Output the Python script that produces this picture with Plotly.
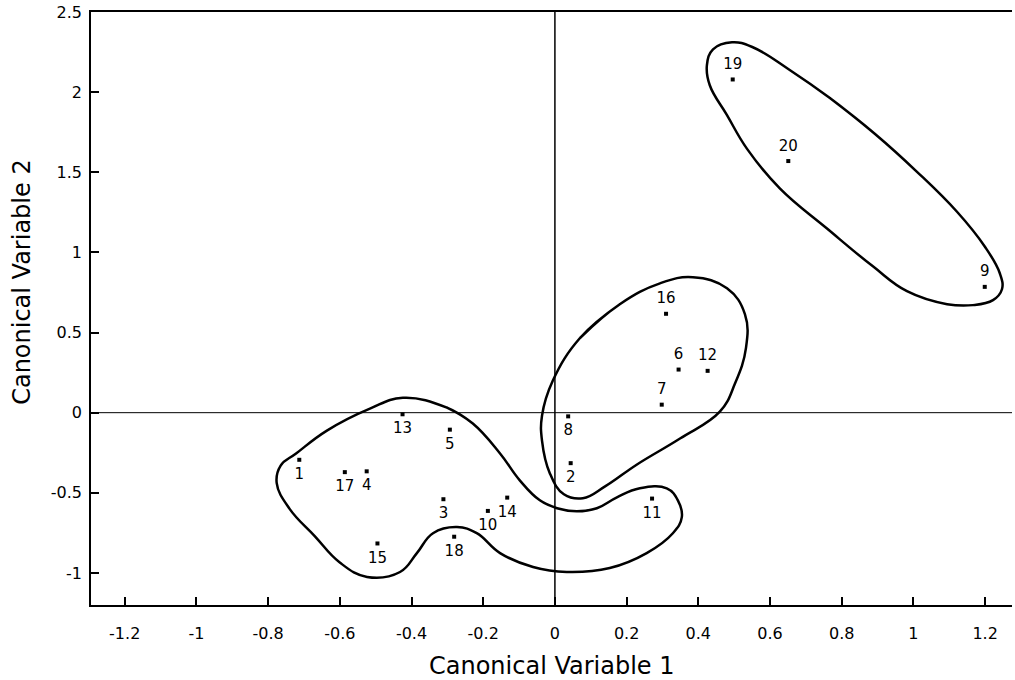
import plotly.graph_objects as go

# ---- data ----
point_labels = ["1", "2", "3", "4", "5", "6", "7", "8", "9", "10",
                "11", "12", "13", "14", "15", "16", "17", "18", "19", "20"]
cv1 = [-0.713, 0.044, -0.311, -0.525, -0.293, 0.345, 0.298, 0.037, 1.199, -0.187,
       0.271, 0.426, -0.425, -0.133, -0.495, 0.310, -0.586, -0.281, 0.496, 0.651]
cv2 = [-0.294, -0.315, -0.540, -0.366, -0.106, 0.269, 0.050, -0.023, 0.785, -0.613,
       -0.536, 0.261, -0.010, -0.530, -0.816, 0.617, -0.371, -0.774, 2.079, 1.570]
label_above = ["6", "7", "9", "12", "16", "19", "20"]

# cluster outlines (closed curves)
clusterA_x = [-0.301, -0.229, -0.153, -0.098, -0.042, 0.006, 0.061, 0.117, 0.173, 0.237,
              0.312, 0.343, 0.354, 0.329, 0.256, 0.153, 0.033, -0.061, -0.153, -0.218,
              -0.273, -0.340, -0.385, -0.432, -0.524, -0.600, -0.670, -0.740, -0.776,
              -0.765, -0.722, -0.636, -0.516, -0.424]
clusterA_y = [0.031, -0.068, -0.255, -0.422, -0.547, -0.596, -0.615, -0.596, -0.528, -0.472,
              -0.472, -0.547, -0.652, -0.752, -0.876, -0.969, -0.994, -0.963, -0.876, -0.752,
              -0.714, -0.752, -0.876, -0.994, -1.025, -0.935, -0.770, -0.600, -0.440,
              -0.330, -0.255, -0.112, 0.025, 0.093]

clusterB_x = [0.070, 0.181, 0.293, 0.385, 0.480, 0.530, 0.533, 0.502, 0.460, 0.349,
              0.229, 0.140, 0.078, 0.025, -0.014, -0.036, -0.036, -0.006]
clusterB_y = [0.466, 0.677, 0.807, 0.845, 0.776, 0.615, 0.404, 0.180, 0.006, -0.161,
              -0.323, -0.460, -0.534, -0.509, -0.379, -0.174, -0.019, 0.199]

clusterC_x = [0.767, 0.893, 1.010, 1.121, 1.199, 1.241, 1.247, 1.222, 1.166, 1.094,
              0.982, 0.887, 0.759, 0.628, 0.536, 0.480, 0.432, 0.424, 0.441, 0.494,
              0.552, 0.656]
clusterC_y = [1.963, 1.739, 1.503, 1.255, 1.037, 0.870, 0.770, 0.702, 0.671, 0.677,
              0.758, 0.913, 1.149, 1.398, 1.646, 1.857, 2.043, 2.168, 2.267, 2.311,
              2.280, 2.137]

x_tickvals = [-1.2, -1.0, -0.8, -0.6, -0.4, -0.2, 0.0, 0.2, 0.4, 0.6, 0.8, 1.0, 1.2]
x_ticktext = ["-1.2", "-1", "-0.8", "-0.6", "-0.4", "-0.2", "0", "0.2", "0.4", "0.6", "0.8", "1", "1.2"]
y_tickvals = [-1.0, -0.5, 0.0, 0.5, 1.0, 1.5, 2.0, 2.5]
y_ticktext = ["-1", "-0.5", "0", "0.5", "1", "1.5", "2", "2.5"]

x_title = "Canonical Variable 1"
y_title = "Canonical Variable 2"

# ---- figure ----
FONT = "DejaVu Sans"
fig = go.Figure()

for cx, cy in [(clusterA_x, clusterA_y), (clusterB_x, clusterB_y), (clusterC_x, clusterC_y)]:
    xs = list(cx) + cx[:2]
    ys = list(cy) + cy[:2]
    fig.add_trace(go.Scatter(x=xs, y=ys, mode="lines",
                             line=dict(color="black", width=2.5, shape="spline", smoothing=1.2),
                             hoverinfo="skip", showlegend=False))

# point markers
fig.add_trace(go.Scatter(x=cv1, y=cv2, mode="markers",
                         marker=dict(symbol="square", size=4, color="black"),
                         showlegend=False))

# point labels (transparent larger markers give the text offset)
above_idx = [i for i, l in enumerate(point_labels) if l in label_above]
below_idx = [i for i, l in enumerate(point_labels) if l not in label_above]
for idx, pos, msize in [(above_idx, "top center", 9), (below_idx, "bottom center", 11)]:
    fig.add_trace(go.Scatter(
        x=[cv1[i] for i in idx], y=[cv2[i] for i in idx],
        text=[point_labels[i] for i in idx],
        mode="markers+text", textposition=pos,
        marker=dict(size=msize, color="rgba(0,0,0,0)"),
        textfont=dict(family=FONT, size=15, color="black"),
        hoverinfo="skip", showlegend=False))

fig.add_hline(y=0, line=dict(color="black", width=1))
fig.add_vline(x=0, line=dict(color="black", width=1.5))

fig.update_layout(
    width=1015, height=680,
    margin=dict(l=91, r=3, t=12, b=75),
    paper_bgcolor="white", plot_bgcolor="white",
    font=dict(family=FONT, color="black", size=15),
    showlegend=False,
    annotations=[
        dict(text=x_title, xref="paper", yref="paper", x=0.5, y=-0.103,
             xanchor="center", yanchor="middle", showarrow=False,
             font=dict(family=FONT, size=24, color="black")),
        dict(text=y_title, xref="paper", yref="paper", x=-0.0749, y=0.545,
             xanchor="center", yanchor="middle", showarrow=False, textangle=-90,
             font=dict(family=FONT, size=24, color="black")),
    ],
)
fig.update_xaxes(
    range=[-1.294, 1.275], tickvals=x_tickvals, ticktext=x_ticktext,
    ticks="inside", ticklen=8, tickcolor="black", tickwidth=1.5,
    showline=True, linecolor="black", linewidth=1.5, mirror=True,
    showgrid=False, zeroline=False, automargin=False,
    tickfont=dict(family=FONT, size=16), ticklabelstandoff=13,
)
fig.update_yaxes(
    range=[-1.2, 2.5], tickvals=y_tickvals, ticktext=y_ticktext,
    ticks="inside", ticklen=8, tickcolor="black", tickwidth=1.5,
    showline=True, linecolor="black", linewidth=1.5, mirror=False,
    showgrid=False, zeroline=False, automargin=False,
    tickfont=dict(family=FONT, size=16), ticklabelstandoff=4,
)

fig.write_html("out.html", config={"displayModeBar": False},
               post_script="document.body.style.margin='0';document.body.style.padding='0';")
